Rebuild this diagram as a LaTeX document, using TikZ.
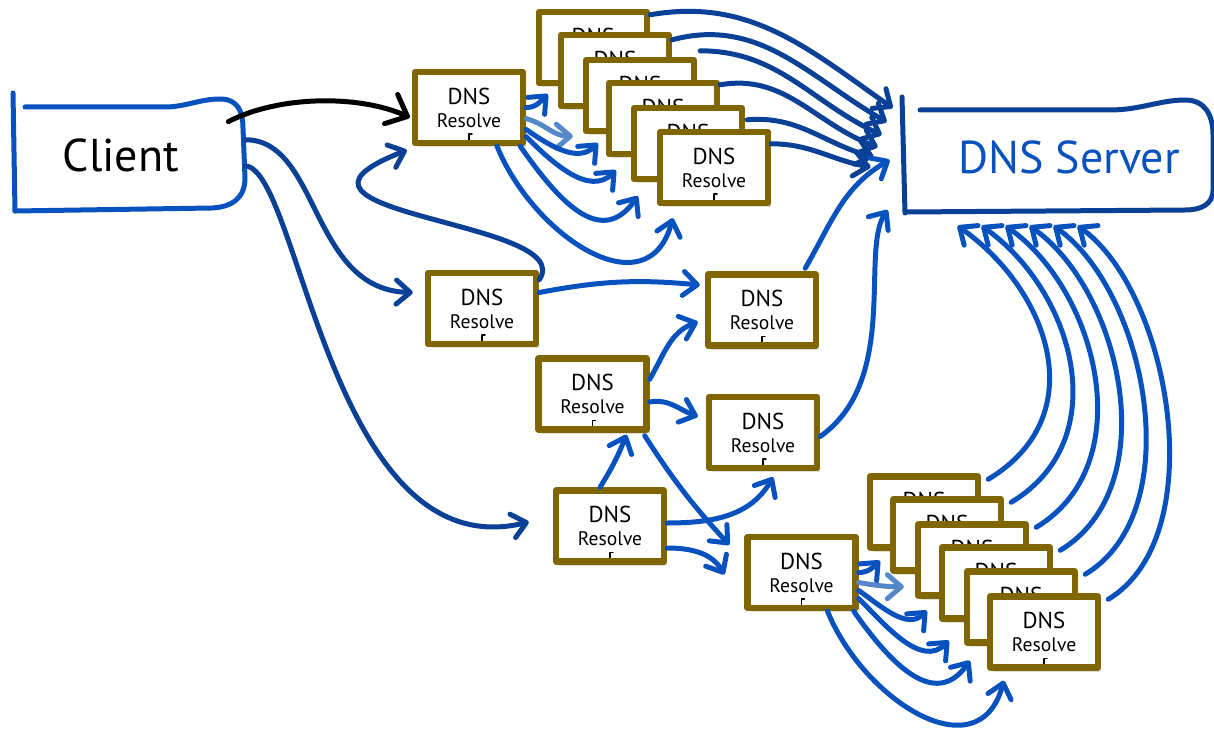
\documentclass[tikz,border=0pt]{standalone}
\usepackage{fontspec}
\setmainfont{PT Sans}
\usetikzlibrary{arrows.meta,shadows}
\definecolor{boxgold}{RGB}{128,102,0}
\definecolor{linkblue}{RGB}{8,82,192}
\definecolor{navyblue}{RGB}{10,64,150}
\definecolor{paleblue}{RGB}{84,136,200}
\newcommand{\resolvetext}{{\fontsize{11.5}{11.5}\selectfont DNS}\\{\fontsize{9.8}{11.5}\selectfont Resolve}}
\tikzset{
  resolve/.style={draw=boxgold,line width=3.2pt,line join=round,fill=white,
    minimum width=54pt,minimum height=35.5pt,inner sep=0pt,align=center,
    font=\fontsize{10}{11.5}\selectfont,
    drop shadow={shadow xshift=1.5pt,shadow yshift=-2pt,opacity=.25},
    path picture={\draw[black,line width=.7pt,line cap=round]
      ([yshift=1.5pt]path picture bounding box.south) -- ++(0,6) -- ++(3,0);}},
  link/.style={draw=linkblue,line width=2.5pt,line cap=round,
    -{Straight Barb[length=7pt,width=12pt,round]}},
  darklink/.style={link,draw=navyblue},
  palelink/.style={link,draw=paleblue},
  outline/.style={line width=2.5pt,line cap=round,line join=round}
}
\begin{document}
\begin{tikzpicture}[x=0.5pt,y=0.5pt]
 \useasboundingbox (0,0) rectangle (1214,-743);
 % client and server
 \node[minimum width=124pt,minimum height=55pt,font=\fontsize{23}{26}\selectfont] (client) at (121,-155) {Client};
 \draw[outline,draw=linkblue] (13,-93) -- (15,-211);
 \draw[outline,draw=linkblue] (25,-107) -- (165,-107) .. controls (185,-107) and (200,-99) .. (220,-99) .. controls (238,-99) and (243,-112) .. (243,-128) -- (245,-178) .. controls (245,-198) and (232,-207) .. (212,-208) -- (15,-211);
 \node[minimum width=156pt,minimum height=56.5pt,font=\fontsize{23}{26}\selectfont,text=linkblue] (server) at (1058,-157) {\hspace*{11pt}DNS Server};
 \draw[outline,draw=navyblue] (902,-97) -- (905,-213);
 \draw[outline,draw=navyblue] (920,-110) -- (1110,-110) .. controls (1140,-110) and (1160,-100) .. (1185,-100) .. controls (1205,-100) and (1213,-115) .. (1213,-135) -- (1213,-190) .. controls (1213,-205) and (1200,-210) .. (1185,-210) -- (907,-212);
 % resolvers
 \node[resolve] (a1) at (469,-107.5) {\resolvetext};
 \node[resolve] (t1) at (593,-47.5) {\resolvetext};
 \node[resolve] (t2) at (615,-70.5) {\resolvetext};
 \node[resolve] (t3) at (640,-95.5) {\resolvetext};
 \node[resolve] (t4) at (663,-118.5) {\resolvetext};
 \node[resolve] (t5) at (688,-143.5) {\resolvetext};
 \node[resolve] (t6) at (714,-167.5) {\resolvetext};
 \node[resolve] (m1) at (482,-308.5) {\resolvetext};
 \node[resolve] (m2) at (592.5,-394) {\resolvetext};
 \node[resolve] (m3) at (762,-310) {\resolvetext};
 \node[resolve] (m4) at (763,-432.5) {\resolvetext};
 \node[resolve] (m5) at (610,-526) {\resolvetext};
 \node[resolve] (m6) at (801.5,-572.5) {\resolvetext};
 \node[resolve] (b1) at (924,-512) {\resolvetext};
 \node[resolve] (b2) at (947,-535) {\resolvetext};
 \node[resolve] (b3) at (972,-560) {\resolvetext};
 \node[resolve] (b4) at (996,-583) {\resolvetext};
 \node[resolve] (b5) at (1021,-607) {\resolvetext};
 \node[resolve] (b6) at (1044,-632) {\resolvetext};
 % client links
 \draw[link,draw=black,-{Straight Barb[length=9pt,width=16pt,round]}] ([xshift=-8.5pt,yshift=-11pt]client.north east) .. controls (280,-95) and (360,-95) .. ([xshift=-1pt,yshift=-5pt]a1.west);
 \draw[darklink] (client.7) .. controls (320,-140) and (310,-290) .. ([xshift=-6pt,yshift=8pt]m1.west);
 \draw[darklink] (client.-5) .. controls (300,-170) and (330,-570) .. ([xshift=-12pt,yshift=2pt]m5.west);
 % top fan
 \draw[link] (a1.east) to[out=0,in=-135] ([xshift=6pt,yshift=-4pt]t1.south west);
 \draw[palelink] (a1.-11) to[out=-15,in=180] ([xshift=-5pt,yshift=-1pt]t3.south west);
 \draw[link] (a1.-21) to[out=-35,in=-135] ([xshift=-4pt,yshift=7pt]t4.south west);
 \draw[link] (a1.-27) to[out=-45,in=-135] ([xshift=-7.5pt,yshift=6pt]t5.south west);
 \draw[link] ([xshift=-3pt]a1.south east) to[out=-55,in=-125,looseness=1.3] ([xshift=-9.5pt,yshift=5pt]t6.south west);
 \draw[link] ([xshift=14pt]a1.south) to[out=-68,in=-105,looseness=1.3] ([xshift=8pt,yshift=-6pt]t6.south west);
 \draw[darklink] ([yshift=-3pt]t1.north east) to[out=10,in=145] ([xshift=-4.5pt,yshift=24.5pt]server.west);
 \draw[darklink] ([yshift=-4pt]t2.north east) to[out=15,in=150] ([xshift=-7.5pt,yshift=17.5pt]server.west);
 \draw[darklink] ([xshift=1.5pt,yshift=3pt]t3.north east) to[out=0,in=155] ([xshift=-10pt,yshift=11pt]server.west);
 \draw[darklink] ([yshift=-2.5pt]t4.north east) to[out=10,in=160] ([xshift=-12pt,yshift=5pt]server.west);
 \draw[darklink] ([xshift=1pt,yshift=-7.5pt]t5.north east) to[out=5,in=165] ([xshift=-14pt]server.west);
 \draw[darklink] ([yshift=-7.5pt]t6.north east) to[out=0,in=170] ([xshift=-15.5pt,yshift=-5pt]server.west);
 % middle
 \draw[darklink] ([yshift=-5pt]m1.north east) .. controls (580,-220) and (240,-215) .. ([xshift=-2.5pt,yshift=-2pt]a1.south west);
 \draw[link] ([yshift=8pt]m1.east) to[bend left=8] ([xshift=-2.5pt,yshift=12.5pt]m3.west);
 \draw[link] ([yshift=-12pt]m2.north east) to[out=60,in=200] ([xshift=-3.5pt,yshift=-6pt]m3.west);
 \draw[link] ([yshift=-4pt]m2.east) to[out=10,in=160] ([xshift=-4pt,yshift=8pt]m4.west);
 \draw[link] ([xshift=-5pt]m5.north) to[bend right=5] ([xshift=17pt,yshift=-1pt]m2.south);
 \draw[link] ([xshift=-2.5pt,yshift=-1.5pt]m2.south east) to[bend right=5] ([xshift=-7.5pt,yshift=-5.5pt]m6.north west);
 \draw[link] ([yshift=1.5pt]m5.east) to[out=0,in=-120] ([xshift=5pt,yshift=-3pt]m4.south);
 \draw[link] ([yshift=-11pt]m5.east) to[out=0,in=120] ([xshift=-10pt,yshift=-1pt]m6.west);
 \draw[link] ([xshift=-7pt,yshift=1.5pt]m3.north east) to[out=60,in=-150] ([xshift=-6pt,yshift=-1.5pt]server.west);
 \draw[link] ([yshift=-2pt]m4.east) .. controls (900,-380) and (860,-250) .. ([xshift=-7pt,yshift=-26.5pt]server.west);
 % bottom fan
 \draw[link] (m6.east) to[out=0,in=-135] ([xshift=6.5pt,yshift=-5pt]b1.south west);
 \draw[palelink] ([yshift=-5pt]m6.east) to[out=-10,in=180] ([xshift=7pt,yshift=-6.5pt]b2.south west);
 \draw[link] ([yshift=-9pt]m6.east) to[out=-35,in=-135] ([xshift=6pt,yshift=-6pt]b3.south west);
 \draw[link] ([yshift=-13pt]m6.east) to[out=-45,in=-135] ([xshift=5pt,yshift=-9.5pt]b4.south west);
 \draw[link] ([xshift=-2.5pt]m6.south east) to[out=-55,in=-125,looseness=1.25] ([xshift=3pt,yshift=-7.5pt]b5.south west);
 \draw[link] ([xshift=13pt]m6.south) to[out=-68,in=-105,looseness=1.3] ([xshift=8.5pt,yshift=-5pt]b6.south west);
 \draw[link] ([xshift=3.5pt,yshift=-3pt]b1.north east) .. controls +(105,63) and +(92,-65) .. ([xshift=28pt,yshift=-6pt]server.south west);
 \draw[link] ([xshift=3.5pt,yshift=-3pt]b2.north east) .. controls +(105,63) and +(92,-65) .. ([xshift=40pt,yshift=-6pt]server.south west);
 \draw[link] ([xshift=3.5pt,yshift=-3pt]b3.north east) .. controls +(105,63) and +(92,-65) .. ([xshift=52pt,yshift=-6pt]server.south west);
 \draw[link] ([xshift=3.5pt,yshift=-3pt]b4.north east) .. controls +(105,63) and +(92,-65) .. ([xshift=64pt,yshift=-6pt]server.south west);
 \draw[link] ([xshift=3.5pt,yshift=-3pt]b5.north east) .. controls +(105,63) and +(92,-65) .. ([xshift=76pt,yshift=-6pt]server.south west);
 \draw[link] ([xshift=3.5pt,yshift=-3pt]b6.north east) .. controls +(105,63) and +(92,-65) .. ([xshift=88pt,yshift=-6pt]server.south west);
\end{tikzpicture}
\end{document}
